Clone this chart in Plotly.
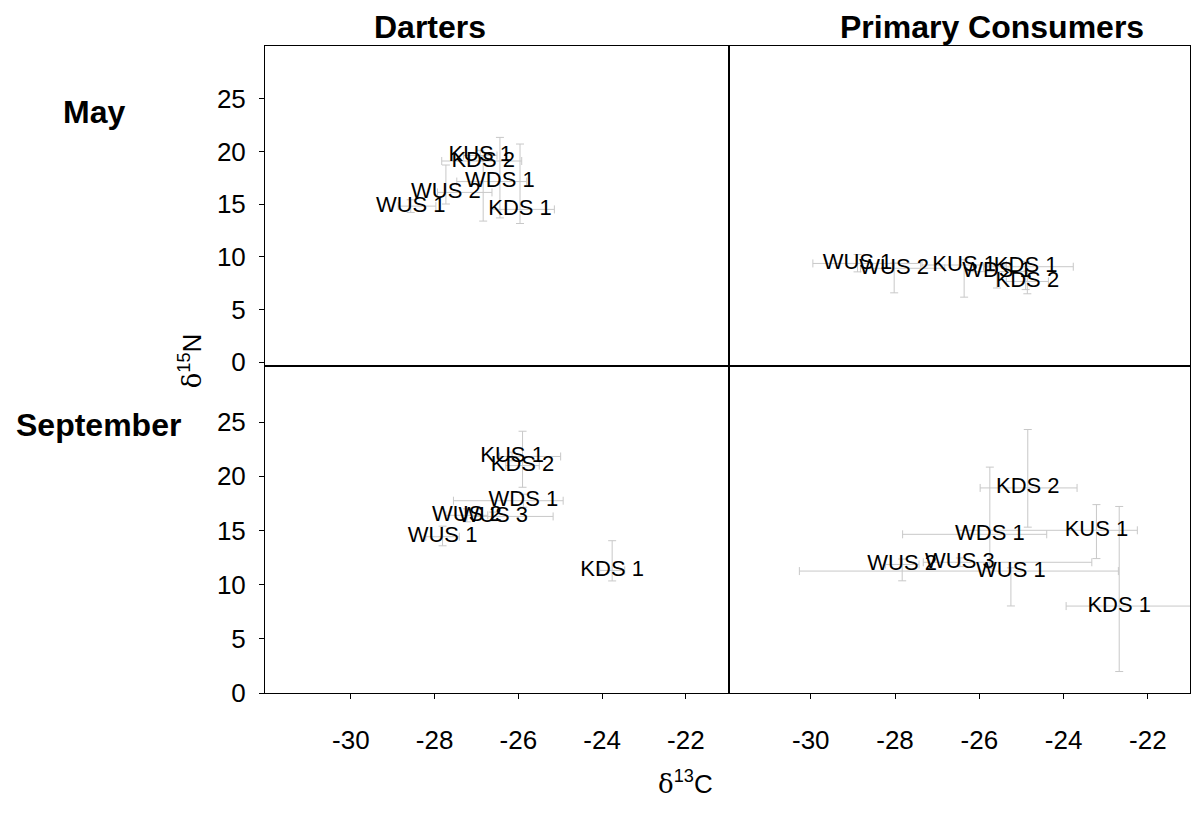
import plotly.graph_objects as go

# ---------------- data ----------------
# May, Darters
may_d_labels = ["WUS 1", "WUS 2", "KUS 1", "KDS 2", "WDS 1", "KDS 1"]
may_d_c13 = [-28.57, -27.73, -26.91, -26.84, -26.44, -25.96]
may_d_n15 = [14.82, 16.12, 19.62, 19.10, 17.15, 14.51]
may_d_c13_lo = [0.3, 0.2, 0.4, 0.99, 1.03, 0.7]
may_d_c13_hi = [0.6, 1.1, 0.4, 0.92, 0.64, 0.82]
may_d_n15_lo = [0.6, 1.1, 0.5, 5.7, 3.45, 1.34]
may_d_n15_hi = [0.6, 2.6, 0.5, 0.5, 4.19, 6.2]

# May, Primary Consumers
may_p_labels = ["WUS 1", "WUS 2", "KUS 1", "WDS 1", "KDS 1", "KDS 2"]
may_p_c13 = [-28.89, -28.02, -26.36, -25.58, -24.90, -24.86]
may_p_n15 = [9.38, 8.92, 9.23, 8.60, 9.07, 7.67]
may_p_c13_lo = [1.06, 0.8, 1.0, 0.7, 1.0, 0.5]
may_p_c13_hi = [1.5, 1.2, 1.0, 0.7, 1.13, 0.5]
may_p_n15_lo = [0.8, 2.33, 3.05, 1.55, 2.17, 1.17]
may_p_n15_hi = [0.84, 0.5, 0.5, 0.5, 0.5, 1.0]

# September, Darters
sep_d_labels = ["WUS 1", "WUS 2", "WUS 3", "KUS 1", "KDS 2", "WDS 1", "KDS 1"]
sep_d_c13 = [-27.81, -27.23, -26.60, -26.15, -25.90, -25.88, -23.76]
sep_d_n15 = [14.43, 16.40, 16.30, 21.83, 20.99, 17.75, 11.32]
sep_d_c13_lo = [0.4, 0.5, 0.5, 0.3, 0.4, 1.67, 0.3]
sep_d_c13_hi = [0.4, 0.5, 1.43, 1.16, 0.4, 0.95, 0.3]
sep_d_n15_lo = [0.84, 0.6, 0.4, 0.4, 2.0, 0.6, 0.97]
sep_d_n15_hi = [0.97, 0.6, 0.4, 0.4, 3.17, 0.6, 2.74]

# September, Primary Consumers
sep_p_labels = ["WUS 2", "WUS 3", "WUS 1", "WDS 1", "KDS 2", "KUS 1", "KDS 1"]
sep_p_c13 = [-27.83, -26.46, -25.25, -25.75, -24.85, -23.22, -22.68]
sep_p_n15 = [11.87, 12.07, 11.26, 14.65, 18.93, 15.02, 8.03]
sep_p_c13_lo = [0.4, 0.87, 5.02, 2.07, 1.13, 3.28, 1.26]
sep_p_c13_hi = [0.4, 3.13, 2.55, 1.35, 1.17, 0.97, 2.0]
sep_p_n15_lo = [1.51, 0.4, 3.22, 3.14, 3.62, 2.61, 6.04]
sep_p_n15_hi = [0.5, 0.4, 0.3, 6.2, 5.39, 2.37, 9.19]

x_ticks = [-30, -28, -26, -24, -22]
x_tick_labels = ["-30", "-28", "-26", "-24", "-22"]
y_ticks = [0, 5, 10, 15, 20, 25]
y_tick_labels = ["0", "5", "10", "15", "20", "25"]

col_titles = ["Darters", "Primary Consumers"]
row_titles = ["May", "September"]

# ---------------- figure ----------------
W, H = 1198, 822
FONT = "Liberation Sans, Arial, Helvetica, sans-serif"
BAR = "#c8c8c8"


def fx(p):
    return p / W


def fy(p):
    return 1 - p / H


fig = go.Figure()

panels = [
    (may_d_labels, may_d_c13, may_d_n15, may_d_c13_lo, may_d_c13_hi, may_d_n15_lo, may_d_n15_hi, "x", "y"),
    (may_p_labels, may_p_c13, may_p_n15, may_p_c13_lo, may_p_c13_hi, may_p_n15_lo, may_p_n15_hi, "x2", "y2"),
    (sep_d_labels, sep_d_c13, sep_d_n15, sep_d_c13_lo, sep_d_c13_hi, sep_d_n15_lo, sep_d_n15_hi, "x3", "y3"),
    (sep_p_labels, sep_p_c13, sep_p_n15, sep_p_c13_lo, sep_p_c13_hi, sep_p_n15_lo, sep_p_n15_hi, "x4", "y4"),
]

for lab, cx, ny, cxl, cxh, nyl, nyh, xa, ya in panels:
    fig.add_trace(go.Scatter(
        x=cx, y=ny, text=lab, mode="text",
        textposition="middle center",
        textfont=dict(family=FONT, size=22, color="black"),
        error_x=dict(type="data", symmetric=False, array=cxh, arrayminus=cxl,
                     color=BAR, thickness=1, width=4),
        error_y=dict(type="data", symmetric=False, array=nyh, arrayminus=nyl,
                     color=BAR, thickness=1, width=4),
        xaxis=xa, yaxis=ya, showlegend=False, hoverinfo="skip",
    ))

left_dom = [fx(265), fx(729)]
right_dom = [fx(729), fx(1190)]
top_dom = [fy(373), fy(47)]
bot_dom = [fy(706), fy(373)]

common = dict(showgrid=False, zeroline=False, showline=True, mirror=True,
              linecolor="black", linewidth=1)
tickfont = dict(family=FONT, size=26, color="black")

xt_on = dict(ticks="outside", ticklen=5, tickwidth=1, tickcolor="black",
             tickvals=x_ticks, ticktext=x_tick_labels, tickfont=tickfont,
             ticklabelstandoff=19)
yt_on = dict(ticks="outside", ticklen=5, tickwidth=1, tickcolor="black",
             tickvals=y_ticks, ticktext=y_tick_labels, tickfont=tickfont,
             ticklabelstandoff=8)
off = dict(ticks="", showticklabels=False)

fig.update_layout(
    width=W, height=H, autosize=False,
    margin=dict(l=0, r=0, t=0, b=0, pad=0),
    paper_bgcolor="white", plot_bgcolor="white",
    xaxis=dict(domain=left_dom, range=[-32.05, -20.97], anchor="y", **common, **off),
    xaxis2=dict(domain=right_dom, range=[-31.94, -21.0], anchor="y2", **common, **off),
    xaxis3=dict(domain=left_dom, range=[-32.05, -20.97], anchor="y3", **common, **xt_on),
    xaxis4=dict(domain=right_dom, range=[-31.94, -21.0], anchor="y4", **common, **xt_on),
    yaxis=dict(domain=top_dom, range=[-0.37, 30.0], anchor="x", **common, **yt_on),
    yaxis2=dict(domain=top_dom, range=[-0.37, 30.0], anchor="x2", **common, **off),
    yaxis3=dict(domain=bot_dom, range=[0, 30.16], anchor="x3", **common, **yt_on),
    yaxis4=dict(domain=bot_dom, range=[0, 30.16], anchor="x4", **common, **off),
)

bold = dict(family=FONT, size=32, color="black")
ann = [
    dict(text="<b>%s</b>" % col_titles[0], x=fx(430), y=fy(28)),
    dict(text="<b>%s</b>" % col_titles[1], x=fx(992), y=fy(28)),
    dict(text="<b>%s</b>" % row_titles[0], x=fx(94), y=fy(114)),
    dict(text="<b>%s</b>" % row_titles[1], x=fx(98), y=fy(433)),
]
for a in ann:
    fig.add_annotation(xref="paper", yref="paper", xanchor="center", yanchor="middle",
                       showarrow=False, font=bold, **a)

fig.add_annotation(xref="paper", yref="paper", x=fx(190), y=fy(368), textangle=-90,
                   xanchor="center", yanchor="middle", showarrow=False,
                   text="<span style=\"font-family:'DejaVu Serif'\">δ</span><sup>15</sup>N",
                   font=dict(family=FONT, size=26, color="black"))
fig.add_annotation(xref="paper", yref="paper", x=fx(685), y=fy(797),
                   xanchor="center", yanchor="middle", showarrow=False,
                   text="<span style=\"font-family:'DejaVu Serif'\">δ</span><sup>13</sup>C",
                   font=dict(family=FONT, size=26, color="black"))

fig.write_html("out.html")
